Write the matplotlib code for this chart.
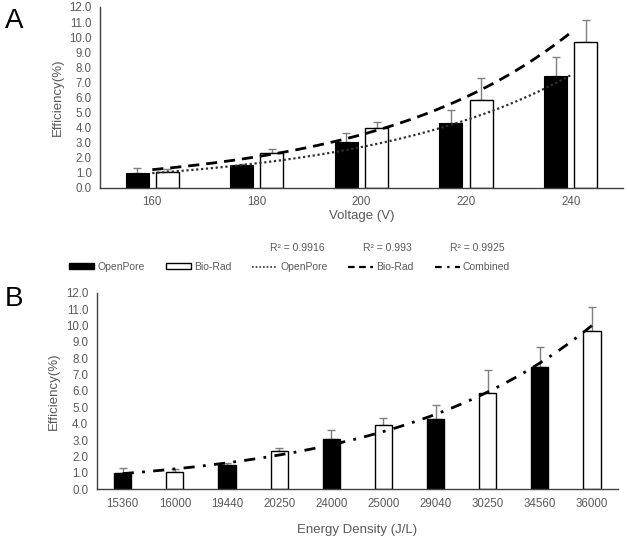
import numpy as np
import matplotlib
matplotlib.use("Agg")
import matplotlib.pyplot as plt
from matplotlib.patches import Patch
from matplotlib.lines import Line2D

plt.rcParams['font.family'] = ['Liberation Sans', 'DejaVu Sans']

# data
voltages = ["160", "180", "200", "220", "240"]
openpore = [1.0, 1.5, 3.05, 4.3, 7.45]
openpore_err = [0.3, 0.1, 0.6, 0.85, 1.25]
biorad = [1.05, 2.35, 3.95, 5.85, 9.65]
biorad_err = [0.2, 0.2, 0.4, 1.45, 1.5]
energy = ["15360", "16000", "19440", "20250", "24000",
          "25000", "29040", "30250", "34560", "36000"]
r2_labels = ["R² = 0.9916", "R² = 0.993", "R² = 0.9925"]

gray = "#595959"
ecol = "#7f7f7f"


def expfit(y):
    # excel style exponential trendline on category index 1..n
    x = np.arange(1, len(y) + 1)
    b, lna = np.polyfit(x, np.log(y), 1)
    xs = np.linspace(1, len(y), 200)
    return xs - 1, np.exp(lna) * np.exp(b * xs)


def style(ax, n):
    ax.set_xlim(-0.5, n - 0.5)
    ax.set_ylim(0, 12)
    ax.set_yticks(np.arange(0, 12.5, 1))
    ax.set_yticklabels([f"{v:.1f}" for v in np.arange(0, 12.5, 1)])
    for s in ["top", "right"]:
        ax.spines[s].set_visible(False)
    for s in ["left", "bottom"]:
        ax.spines[s].set_color("#404040")
        ax.spines[s].set_linewidth(1.0)
    ax.tick_params(length=0, colors=gray, labelsize=8.3, pad=6)
    ax.set_ylabel("Efficiency(%)", color=gray, fontsize=9.5, labelpad=4)


fig = plt.figure(figsize=(6.27, 5.37), dpi=100)

# panel A
axA = fig.add_axes([0.1595, 0.65, 0.834, 0.337])
x = np.arange(len(voltages))
w = 0.22
off = 0.144
axA.bar(x - off, openpore, w, color="black", edgecolor="black", linewidth=0.8, zorder=2)
axA.bar(x + off, biorad, w, color="white", edgecolor="black", linewidth=1.0, zorder=2)
axA.errorbar(x - off, openpore, yerr=[np.zeros(5), openpore_err], fmt="none",
             ecolor=ecol, elinewidth=1, capsize=3, capthick=1, zorder=1)
axA.errorbar(x + off, biorad, yerr=[np.zeros(5), biorad_err], fmt="none",
             ecolor=ecol, elinewidth=1, capsize=3, capthick=1, zorder=1)
xs, ys = expfit(openpore)
axA.plot(xs, ys, color="#303030", linestyle=(0, (1, 1.2)), linewidth=1.6, zorder=3)
xs, ys = expfit(biorad)
axA.plot(xs, ys, color="black", linestyle=(0, (4, 2.5)), linewidth=2.0, zorder=3)
axA.set_xticks(x)
axA.set_xticklabels(voltages)
style(axA, len(voltages))
axA.set_xlabel("Voltage (V)", color=gray, fontsize=9.5, labelpad=1)

# panel B
axB = fig.add_axes([0.1542, 0.0888, 0.8314, 0.3662])
combined = [v for pair in zip(openpore, biorad) for v in pair]
combined_err = [v for pair in zip(openpore_err, biorad_err) for v in pair]
xb = np.arange(len(energy))
colors = ["black" if i % 2 == 0 else "white" for i in range(len(energy))]
axB.bar(xb, combined, 0.33, color=colors, edgecolor="black", linewidth=1.0, zorder=2)
axB.errorbar(xb, combined, yerr=[np.zeros(len(xb)), combined_err], fmt="none",
             ecolor=ecol, elinewidth=1, capsize=3, capthick=1, zorder=1)
xs, ys = expfit(combined)
axB.plot(xs, ys, color="black", linestyle=(0, (4, 3, 1, 3)), linewidth=2.0, zorder=3)
axB.set_xticks(xb)
axB.set_xticklabels(energy)
style(axB, len(energy))
axB.set_xlabel("Energy Density (J/L)", color=gray, fontsize=9.5, labelpad=10)

# legend
handles = [
    Patch(facecolor="black", edgecolor="black"),
    Patch(facecolor="white", edgecolor="black"),
    Line2D([], [], color="#303030", linestyle=(0, (1, 1.2)), linewidth=1.2),
    Line2D([], [], color="black", linestyle=(0, (3, 2)), linewidth=1.6),
    Line2D([], [], color="black", linestyle=(0, (3, 2.5, 1, 2.5)), linewidth=1.6),
]
labels = ["OpenPore", "Bio-Rad", "OpenPore", "Bio-Rad", "Combined"]
leg = fig.legend(handles, labels, ncol=5, loc="center", bbox_to_anchor=(0.462, 0.503),
                 frameon=False, fontsize=7.5, handlelength=2.4, handleheight=0.5,
                 handletextpad=0.3, columnspacing=2.0, labelcolor=gray)

for txt, xr in zip(r2_labels, [325, 412, 505]):
    fig.text(xr / 627, 1 - 248 / 537, txt, ha="right", va="center", fontsize=7.5, color=gray)

fig.text(0.008, 0.985, "A", fontsize=20, va="top", ha="left")
fig.text(0.008, 0.468, "B", fontsize=20, va="top", ha="left")

fig.savefig("out.png", dpi=100)
